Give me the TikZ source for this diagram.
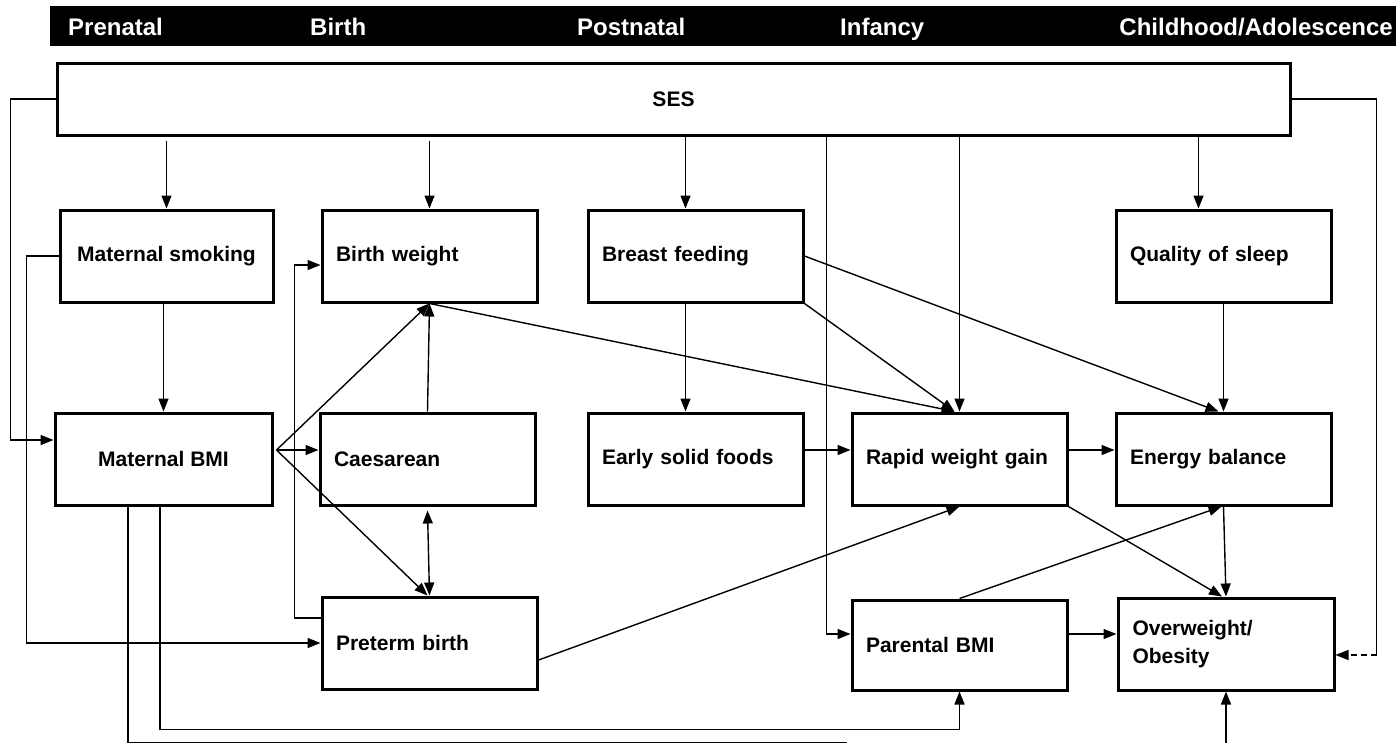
\documentclass[tikz,border=0pt]{standalone}
\usepackage{fontspec}
\setmainfont{Liberation Sans}
\usetikzlibrary{arrows.meta,calc}
\begin{document}
\begin{tikzpicture}[x=1pt,y=-1pt,
  box/.style={draw, line width=3pt, minimum width=215pt, minimum height=92pt, inner sep=0pt, font=\bfseries\fontsize{21}{28}\selectfont},
  lbox/.style={box, text width=187pt, align=left},
  cbox/.style={box, align=center},
  conn/.style={line width=1.4pt},
  arr/.style={conn, -{Triangle[length=13pt,width=10pt]}},
  darr/.style={conn, {Triangle[length=13pt,width=10pt]}-{Triangle[length=13pt,width=10pt]}},
  hdr/.style={text=white, font=\bfseries\fontsize{24}{28}\selectfont, inner sep=0pt}]
\useasboundingbox (0,0) rectangle (1396,742);
% header bar
\node[fill=black, minimum width=1346pt, minimum height=40pt, inner sep=0pt, anchor=north west] (bar) at (50,6) {};
\node[hdr, anchor=base west] (tpre) at (68,35) {Prenatal};
\node[hdr, anchor=base west] (tbir) at (310,35) {Birth};
\node[hdr, anchor=base west] (tpos) at (577,35) {Postnatal};
\node[hdr, anchor=base west] (tinf) at (840,35) {Infancy};
\node[hdr, anchor=base east] (tchi) at (1393,35) {Childhood/Adolescence};
% boxes
\node[box, minimum width=1233pt, minimum height=72pt] (ses) at (673.5,99) {SES};
\node[cbox, minimum width=213pt] (ms) at (166.5,256) {Maternal smoking};
\node[lbox] (bw) at (429.5,256) {Birth weight};
\node[lbox] (bf) at (695.5,256) {Breast feeding};
\node[lbox] (qs) at (1223.5,256) {Quality of sleep};
\node[cbox, minimum width=217pt] (mb) at (163.5,459) {Maternal BMI};
\node[lbox] (cs) at (427.5,459) {Caesarean};
\node[lbox] (esf) at (695.5,459) {Early solid foods};
\node[lbox] (rwg) at (959.5,459) {Rapid weight gain};
\node[lbox] (eb) at (1223.5,459) {Energy balance};
\node[lbox] (pb) at (429.5,643) {Preterm birth};
\node[lbox, minimum height=90pt] (pbmi) at (959.5,645) {Parental BMI};
\node[lbox, minimum width=216pt] (ow) at (1226,644) {Overweight/\\Obesity};
% SES outgoing
\coordinate (s1) at ($(ses.south -| ms.north)+(0,4)$);
\draw[arr] (s1) -- (ms.north);
\coordinate (s2) at ($(ses.south -| bw.north)+(0,4)$);
\draw[arr] (s2) -- (bw.north);
\coordinate (bfn) at ($(bf.north)+(-10,0)$);
\draw[arr] (ses.south -| bfn) -- (bfn);
\coordinate (pin) at ($(pbmi.west)+(0,-11)$);
\coordinate (c828) at ($(ses.south -| pbmi.west)+(-24,0)$);
\draw[arr] (c828) |- (pin);
\draw[arr] (ses.south -| rwg.north) -- (rwg.north);
\coordinate (qsn) at ($(qs.north)+(-25,0)$);
\draw[arr] (ses.south -| qsn) -- (qsn);
\coordinate (mbw) at ($(mb.west)+(0,-19)$);
\draw[arr] (ses.west) -- ++(-45,0) |- (mbw);
\coordinate (owe) at ($(ow.east)+(0,11)$);
\coordinate (rc) at ($(owe)+(41,0)$);
\draw[conn] (ses.east) -| (rc);
\draw[arr, dash pattern=on 6pt off 4pt] (rc) -- (owe);
% maternal smoking
\draw[arr] (ms.west) -- ++(-32,0) |- (pb.west);
\draw[arr] (mb.north |- ms.south) -- (mb.north);
% maternal BMI fan
\coordinate (apex) at ($(mb.east)+(3,-9)$);
\draw[arr] (apex) -- (bw.south);
\draw[arr] (apex) -- ($(cs.west)+(0,-9)$);
\draw[arr] (apex) -- ($(pb.north)+(-2,0)$);
% preterm to birth weight
\draw[arr] ($(pb.west)+(0,-25)$) -- ++(-26,0) |- ($(bw.west)+(0,9)$);
% caesarean
\draw[arr] (cs.north) -- (bw.south);
\draw[darr] ($(cs.south)+(0,4)$) -- (pb.north);
% birth weight / breast feeding
\coordinate (rwn) at ($(rwg.north)+(-5,0)$);
\draw[arr] (bw.south) -- (rwn);
\draw[arr] ($(bf.south)+(-10,0)$) -- ($(esf.north)+(-10,0)$);
\draw[arr] (bf.south east) -- (rwn);
\coordinate (ebn) at ($(eb.north)+(-5,0)$);
\draw[arr] (bf.east) -- (ebn);
\draw[arr] (qs.south) -- (eb.north);
% middle row
\draw[arr] ($(esf.east)+(0,-9)$) -- ($(rwg.west)+(0,-9)$);
\draw[arr] ($(rwg.east)+(0,-9)$) -- ($(eb.west)+(0,-9)$);
\draw[arr] ($(pb.east)+(0,17)$) -- (rwg.south);
\coordinate (own) at ($(ow.north)+(-4,0)$);
\draw[arr] (rwg.south east) -- (own);
\draw[arr] (eb.south) -- (ow.north);
\draw[arr] (pbmi.north) -- ($(eb.south)+(-2,0)$);
\draw[arr] ($(pbmi.east)+(0,-11)$) -- ($(ow.west)+(0,-10)$);
% bottom loops
\draw[arr] ($(mb.south)+(-3.5,0)$) -- ++(0,223) -| (pbmi.south);
\draw[conn] ($(mb.south)+(-35.5,0)$) -- ++(0,236) -- ++(719,0) coordinate (endb);
\coordinate (owb) at ($(ow.south)+(0,55)$);
\draw[arr] (owb) -- (ow.south);
\end{tikzpicture}
\end{document}
